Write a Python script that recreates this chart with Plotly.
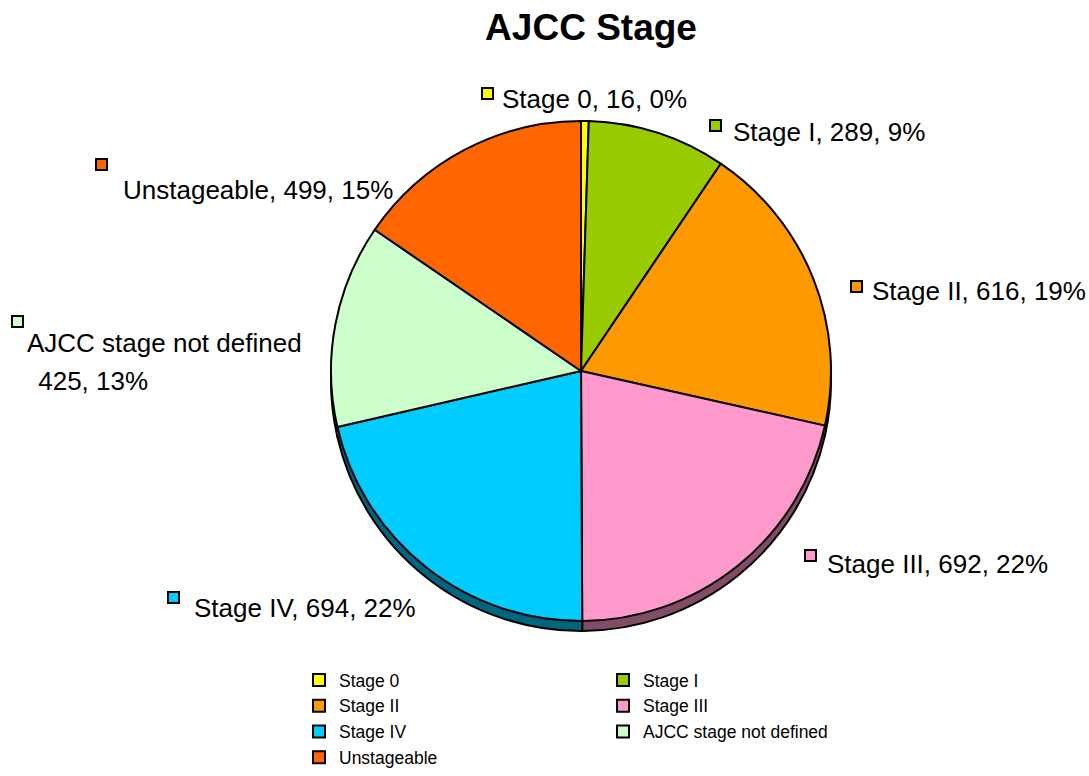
import plotly.graph_objects as go

W, H = 1089, 776

stages = ["Stage 0", "Stage I", "Stage II", "Stage III", "Stage IV",
          "AJCC stage not defined", "Unstageable"]
counts = [16, 289, 616, 692, 694, 425, 499]
pct_labels = ["0%", "9%", "19%", "22%", "22%", "13%", "15%"]
colors = ["#FFFF00", "#99CC00", "#FF9900", "#FF99CC", "#00CCFF", "#CCFFCC", "#FF6600"]
side_colors = ["#808000", "#4C6600", "#804C00", "#804C66", "#006680", "#668066", "#803300"]

FONT = "Liberation Sans, Arial, sans-serif"

# plot area: left edge is where the legend starts, width chosen so the legend wraps in two columns
ML, MR = 299, 90
PW = W - ML - MR


def fx(x):
    return (x - ML) / PW


def fy(y):
    return 1 - y / H


# pie geometry in pixels
cx, cy, r, depth = 581, 371, 250, 10
dom_x = [fx(cx - r), fx(cx + r)]
dom_y = [fy(cy + r), fy(cy - r)]
dom_y_side = [fy(cy + r + depth), fy(cy - r + depth)]

fig = go.Figure()

# darker copy below the pie to fake the 3D rim
fig.add_trace(go.Pie(
    labels=stages, values=counts, sort=False, direction="clockwise", rotation=0,
    marker=dict(colors=side_colors, line=dict(color="black", width=2)),
    textinfo="none", hoverinfo="skip", showlegend=False,
    domain=dict(x=dom_x, y=dom_y_side),
))
fig.add_trace(go.Pie(
    labels=stages, values=counts, sort=False, direction="clockwise", rotation=0,
    marker=dict(colors=colors, line=dict(color="black", width=2)),
    textinfo="none", hovertemplate="%{label}: %{value}<extra></extra>",
    domain=dict(x=dom_x, y=dom_y),
))

# label placement: (square left px, square top px, text left px, text center px)
label_pos = [
    (482, 88, 500, 99),
    (710, 120, 731, 132),
    (851, 281, 870, 291),
    (805, 550, 825, 564),
    (168, 592, 192, 608),
    (12, 316, 25, 343),
    (96, 159, 121, 190),
]

shapes = []
annotations = []
for name, n, pct, col, (sx, sy, tx, ty) in zip(stages, counts, pct_labels, colors, label_pos):
    shapes.append(dict(
        type="rect", xref="paper", yref="paper",
        x0=fx(sx), x1=fx(sx + 11), y0=fy(sy + 11), y1=fy(sy),
        fillcolor=col, line=dict(color="black", width=2),
    ))
    if name == "AJCC stage not defined":
        annotations.append(dict(text=name, x=fx(tx), y=fy(ty)))
        annotations.append(dict(text=f" {n}, {pct}", x=fx(tx + 4), y=fy(ty + 38)))
    else:
        annotations.append(dict(text=f"{name}, {n}, {pct}", x=fx(tx), y=fy(ty)))

for a in annotations:
    a.update(xref="paper", yref="paper", xanchor="left", yanchor="middle",
             showarrow=False, font=dict(family=FONT, size=26, color="black"))

fig.update_layout(
    width=W, height=H,
    margin=dict(l=ML, r=MR, t=0, b=0),
    paper_bgcolor="white", plot_bgcolor="white",
    title=dict(text="AJCC Stage", x=591 / W, y=fy(27), xanchor="center", yanchor="middle",
               font=dict(family=FONT, size=37, color="black", weight="bold")),
    shapes=shapes,
    annotations=annotations,
    legend=dict(
        orientation="h", x=0, y=fy(662), xanchor="left", yanchor="top",
        entrywidth=259, entrywidthmode="pixels", tracegroupgap=0,
        font=dict(family=FONT, size=17.5, color="black"),
        itemclick=False, itemdoubleclick=False,
    ),
)

fig.write_html("out.html", config={"displayModeBar": False},
               post_script="document.body.style.margin = '0';")
